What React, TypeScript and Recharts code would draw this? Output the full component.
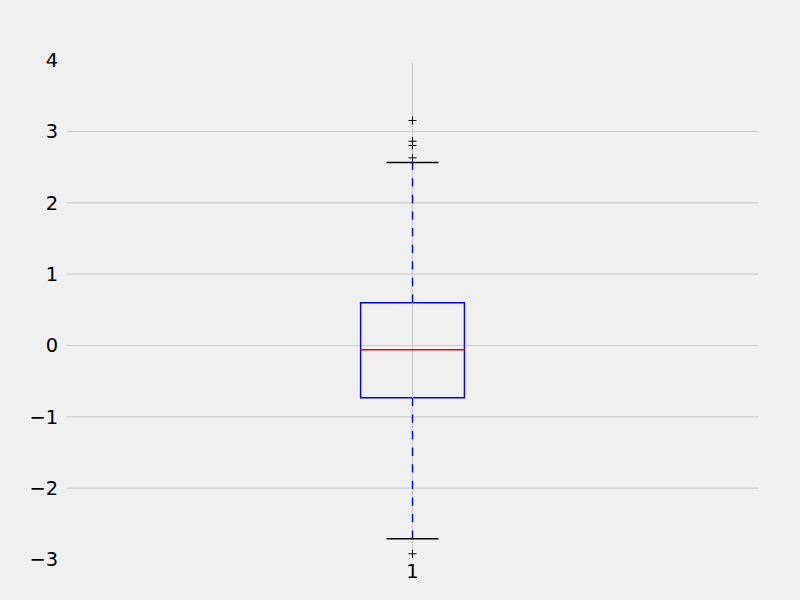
import React from 'react';
import {
  ComposedChart,
  XAxis,
  YAxis,
  CartesianGrid,
  Scatter,
  ReferenceArea,
  ReferenceLine,
} from 'recharts';

// ---- data ----
const boxPositions = [1];
const lowerWhiskers = [-2.71];
const q1Values = [-0.733];
const medianValues = [-0.06];
const q3Values = [0.599];
const upperWhiskers = [2.566];
const outlierValues = [[3.154, 2.864, 2.804, 2.631, -2.92]];
const xTicks = [1];
const yTicks = [-3, -2, -1, 0, 1, 2, 3, 4];
const gridValues = [-2, -1, 0, 1, 2, 3];

// ---- styles ----
const BOX_HALF = 0.075;
const CAP_HALF = 0.0375;
const BG = '#f0f0f0';
const GRID = '#cbcbcb';
const LW = 1.4;
const FONT = { fontFamily: 'DejaVu Sans', fontSize: 19.4, fill: '#000000' };

const outlierData = boxPositions.flatMap((x, i) =>
  outlierValues[i].map((y) => ({ x, y }))
);

const fmt = (v: number) => String(v).replace('-', '\u2212');

const Plus = (props: any) => {
  const { cx, cy } = props;
  if (cx == null || cy == null) return null;
  const s = 4;
  return (
    <g>
      <line x1={cx - s} y1={cy} x2={cx + s} y2={cy} stroke="#000" strokeWidth={1} />
      <line x1={cx} y1={cy - s} x2={cx} y2={cy + s} stroke="#000" strokeWidth={1} />
    </g>
  );
};

export default function App() {
  return (
    <div style={{ position: 'absolute', left: 0, top: 0, width: 800, height: 600, background: BG }}>
      <ComposedChart
        width={800}
        height={600}
        margin={{ top: 60.17, right: 41.5, bottom: 0, left: 0.5 }}
        data={outlierData}
      >
        <CartesianGrid
          vertical={false}
          horizontalValues={gridValues}
          stroke={GRID}
          strokeWidth={1.2}
        />
        <XAxis
          type="number"
          dataKey="x"
          domain={[0.5, 1.5]}
          ticks={xTicks}
          axisLine={false}
          tickLine={false}
          tickSize={0}
          tickMargin={5}
          height={40.5}
          tick={FONT}
          allowDataOverflow
        />
        <YAxis
          type="number"
          dataKey="y"
          domain={[-3, 4]}
          ticks={yTicks}
          axisLine={false}
          tickLine={false}
          tickSize={0}
          tickMargin={8.5}
          width={66}
          tick={FONT}
          tickFormatter={fmt}
          interval={0}
          allowDataOverflow
        />
        {boxPositions.map((x) => (
          <ReferenceLine
            key={`vg-${x}`}
            segment={[{ x, y: 3.96 }, { x, y: -2.96 }]}
            stroke={GRID}
            strokeWidth={1.2}
          />
        ))}
        {boxPositions.map((x, i) => (
          <ReferenceLine
            key={`uw-${i}`}
            segment={[{ x, y: q3Values[i] }, { x, y: upperWhiskers[i] }]}
            stroke="#0000ff"
            strokeWidth={LW}
            strokeDasharray="8.3 8.3"
          />
        ))}
        {boxPositions.map((x, i) => (
          <ReferenceLine
            key={`lw-${i}`}
            segment={[{ x, y: q1Values[i] }, { x, y: lowerWhiskers[i] }]}
            stroke="#0000ff"
            strokeWidth={LW}
            strokeDasharray="8.3 8.3"
          />
        ))}
        {boxPositions.map((x, i) => (
          <ReferenceArea
            key={`box-${i}`}
            x1={x - BOX_HALF}
            x2={x + BOX_HALF}
            y1={q1Values[i]}
            y2={q3Values[i]}
            fill="none"
            fillOpacity={0}
            stroke="#0000ff"
            strokeWidth={LW}
            strokeOpacity={1}
          />
        ))}
        {boxPositions.map((x, i) => (
          <ReferenceLine
            key={`med-${i}`}
            segment={[{ x: x - BOX_HALF, y: medianValues[i] }, { x: x + BOX_HALF, y: medianValues[i] }]}
            stroke="#ff0000"
            strokeWidth={LW}
          />
        ))}
        {boxPositions.map((x, i) => (
          <ReferenceLine
            key={`ucap-${i}`}
            segment={[{ x: x - CAP_HALF, y: upperWhiskers[i] }, { x: x + CAP_HALF, y: upperWhiskers[i] }]}
            stroke="#000000"
            strokeWidth={LW}
          />
        ))}
        {boxPositions.map((x, i) => (
          <ReferenceLine
            key={`lcap-${i}`}
            segment={[{ x: x - CAP_HALF, y: lowerWhiskers[i] }, { x: x + CAP_HALF, y: lowerWhiskers[i] }]}
            stroke="#000000"
            strokeWidth={LW}
          />
        ))}
        <Scatter data={outlierData} dataKey="y" shape={Plus} isAnimationActive={false} />
      </ComposedChart>
    </div>
  );
}
